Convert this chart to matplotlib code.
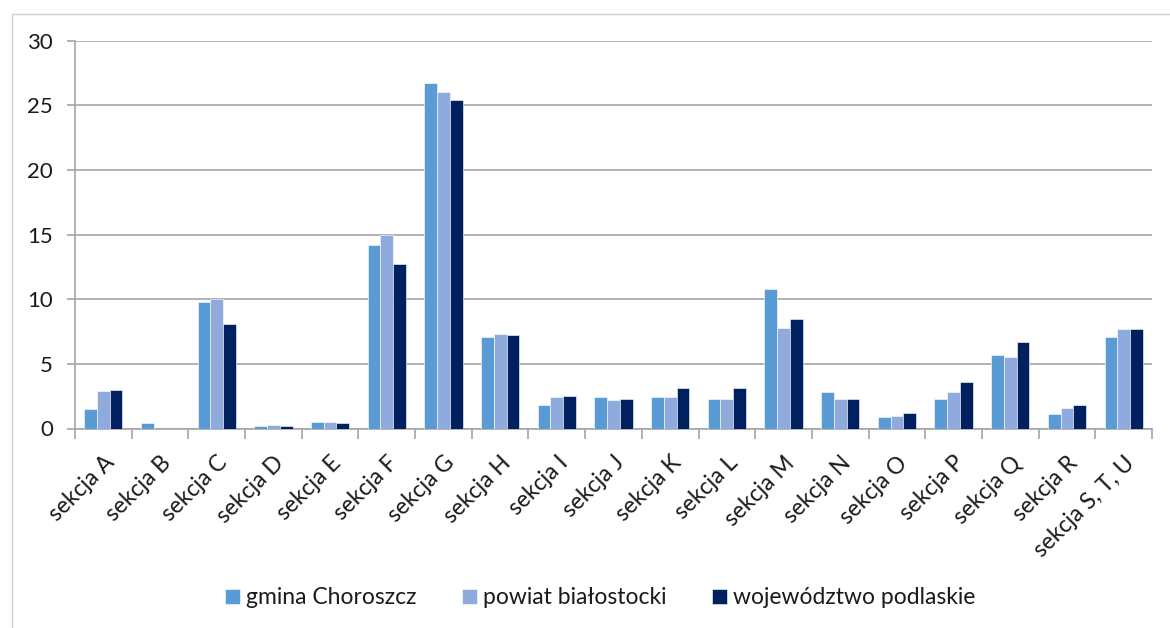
import matplotlib
matplotlib.use("Agg")
import matplotlib.pyplot as plt
import numpy as np
from matplotlib.patches import Rectangle

categories = ["sekcja A", "sekcja B", "sekcja C", "sekcja D", "sekcja E", "sekcja F",
              "sekcja G", "sekcja H", "sekcja I", "sekcja J", "sekcja K", "sekcja L",
              "sekcja M", "sekcja N", "sekcja O", "sekcja P", "sekcja Q", "sekcja R",
              "sekcja S, T, U"]
gmina = [1.5, 0.4, 9.8, 0.2, 0.5, 14.2, 26.7, 7.1, 1.8, 2.4, 2.4, 2.3, 10.8, 2.8, 0.9, 2.3, 5.7, 1.1, 7.1]
powiat = [2.9, 0.0, 10.0, 0.3, 0.5, 15.0, 26.0, 7.3, 2.4, 2.2, 2.4, 2.3, 7.8, 2.3, 1.0, 2.8, 5.5, 1.6, 7.7]
wojew = [3.0, 0.0, 8.1, 0.2, 0.4, 12.7, 25.4, 7.2, 2.5, 2.3, 3.1, 3.1, 8.5, 2.3, 1.2, 3.6, 6.7, 1.8, 7.7]
series_names = ["gmina Choroszcz", "powiat białostocki", "województwo podlaskie"]
colors = ["#5B9BD5", "#8FAADC", "#002060"]
yticks = [0, 5, 10, 15, 20, 25, 30]

plt.rcParams['font.family'] = ['Lato', 'DejaVu Sans']
txt = "#1A1A1A"

fig = plt.figure(figsize=(11.7, 6.28), dpi=100)
fig.patches.append(Rectangle((12/1170, -0.1), 1.2, 1 - 14/628 + 0.1, transform=fig.transFigure,
                             fill=False, edgecolor="#D0D0D0", linewidth=1.0))
ax = fig.add_axes([75/1170, 1 - 428.5/628, (1152 - 75)/1170, (428.5 - 40.7)/628])

x = np.arange(len(categories))
w = 0.225
for i, (vals, name, c) in enumerate(zip([gmina, powiat, wojew], series_names, colors)):
    ax.bar(x + (i - 1) * w, vals, width=w, color=c, label=name,
           edgecolor="white", linewidth=0.4, zorder=3)

ax.set_xlim(-0.5, len(categories) - 0.5)
ax.set_ylim(0, 30)
ax.set_yticks(yticks)
ax.set_yticklabels([str(v) for v in yticks], fontsize=16, color=txt)
ax.yaxis.grid(True, color="#A6A6A6", linewidth=1.2, zorder=0)
ax.set_axisbelow(True)

ax.set_xticks(np.arange(len(categories) + 1) - 0.5, minor=False)
ax.set_xticklabels([])
ax.tick_params(axis='x', which='major', length=7, color="#A6A6A6", direction='out', width=1.2)
ax.set_xticks(x, minor=True)
ax.set_xticklabels(categories, minor=True, rotation=45, ha='right', rotation_mode='anchor',
                   fontsize=16.5, color=txt)
ax.tick_params(axis='x', which='minor', length=0, pad=17)
ax.tick_params(axis='y', length=6, color="#A6A6A6", width=1.2, pad=10)

for s in ["top", "right"]:
    ax.spines[s].set_visible(False)
for s in ["left", "bottom"]:
    ax.spines[s].set_color("#A6A6A6")
    ax.spines[s].set_linewidth(1.2)

leg = fig.legend(loc="center", bbox_to_anchor=(600/1170, 1 - 598/628), ncol=3, frameon=False,
                 fontsize=16.5, handlelength=0.65, handleheight=0.65, handletextpad=0.25,
                 columnspacing=2.0)
for t in leg.get_texts():
    t.set_color(txt)

fig.savefig("out.png", dpi=100)
